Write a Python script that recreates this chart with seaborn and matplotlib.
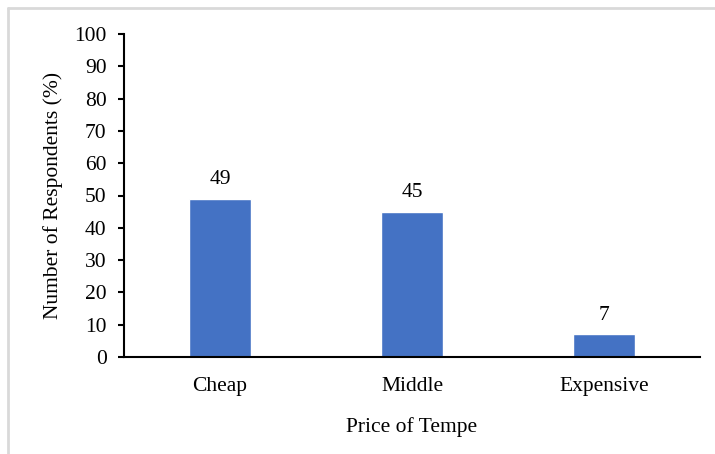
import matplotlib
matplotlib.use("Agg")
import matplotlib.pyplot as plt
from matplotlib.lines import Line2D
import seaborn as sns
import pandas as pd

categories = ["Cheap", "Middle", "Expensive"]
respondents = [49, 45, 7]
y_ticks = [0, 10, 20, 30, 40, 50, 60, 70, 80, 90, 100]

df = pd.DataFrame({"price": categories, "pct": respondents})

sns.set_theme(style="white")
plt.rcParams["font.family"] = ["Liberation Serif", "DejaVu Serif"]
plt.rcParams["text.color"] = "black"
plt.rcParams["axes.labelcolor"] = "black"
plt.rcParams["xtick.color"] = "black"
plt.rcParams["ytick.color"] = "black"

FS = 15.5

fig = plt.figure(figsize=(7.15, 4.54), dpi=100)
ax = fig.add_axes([124 / 715, 97 / 454, 576 / 715, 323 / 454])

sns.barplot(data=df, x="price", y="pct", color="#4472C4", saturation=1,
            width=0.32, ax=ax)

ax.set_ylim(0, 100)
ax.set_xlim(-0.5, 2.5)
ax.set_yticks(y_ticks)
ax.tick_params(axis="y", direction="out", length=4.5, width=1.5,
               labelsize=FS, pad=8, left=True)
ax.tick_params(axis="x", length=0, labelsize=FS, pad=14.5)

for side in ["top", "right"]:
    ax.spines[side].set_visible(False)
for side in ["left", "bottom"]:
    ax.spines[side].set_color("black")
    ax.spines[side].set_linewidth(1.5)

ax.set_xlabel("Price of Tempe", fontsize=FS, labelpad=15)
ax.set_ylabel("Number of Respondents (%)", fontsize=FS, labelpad=8)

ax.bar_label(ax.containers[0], labels=[str(v) for v in respondents],
             padding=7, fontsize=FS)

# light frame around the figure
fig.add_artist(Line2D([8 / 715, 1.0], [1 - 8 / 454, 1 - 8 / 454],
                      transform=fig.transFigure, color="#d9d9d9", lw=2))
fig.add_artist(Line2D([8 / 715, 8 / 715], [0, 1 - 8 / 454],
                      transform=fig.transFigure, color="#d9d9d9", lw=2))

fig.savefig("out.png", dpi=100)
